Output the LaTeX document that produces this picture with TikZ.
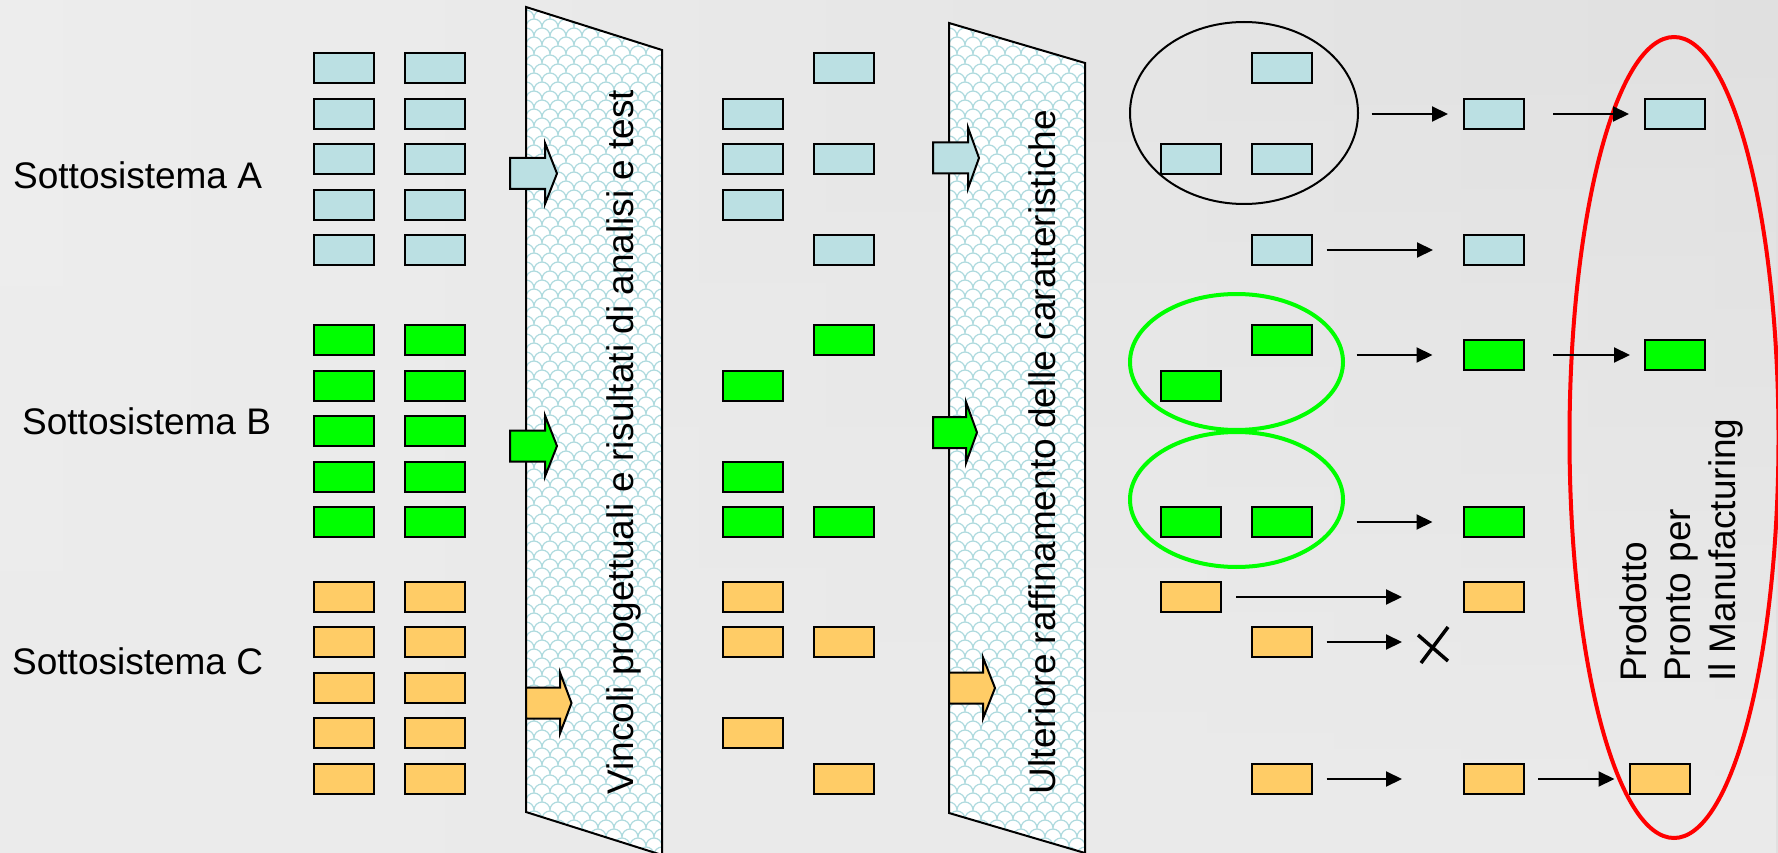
\documentclass[tikz,border=0pt]{standalone}
\usepackage{fontspec}
\setmainfont{Liberation Sans}
\usetikzlibrary{arrows.meta,fadings,shapes.geometric}

\definecolor{bgL}{HTML}{EEEEEE}
\definecolor{bgR}{HTML}{E0E0E0}
\definecolor{bgB}{HTML}{EBEBEB}
\definecolor{cA}{HTML}{BBE0E3}
\definecolor{cB}{HTML}{00FF00}
\definecolor{cC}{HTML}{FFCC66}
\definecolor{patcol}{HTML}{AEDADE}

\tikzfading[name=fadeup, top color=transparent!100, bottom color=transparent!0]

\tikzset{
  box/.style={draw=black, line width=2pt, rectangle, minimum width=60pt,
    minimum height=30pt, inner sep=0pt},
  boxA/.style={box, fill=cA},
  boxB/.style={box, fill=cB},
  boxC/.style={box, fill=cC},
  lbl/.style={font=\fontsize{37}{44}\selectfont, inner sep=0pt},
  flow/.style={line width=2pt, -{Triangle[length=16pt,width=15pt]}},
  panel/.style={draw=black, line width=2pt, line join=miter},
  patline/.style={draw=patcol, line width=1.2pt},
  fat/.style={draw=black, line width=2pt, line join=miter},
  group/.style={ellipse, inner sep=0pt},
}

% block arrow: fill colour, start x, head base x, tip x, centre y
\newcommand\fatarrow[5]{%
  \draw[fat, fill=#1] (#2,#5-15.5) -- (#3,#5-15.5) -- (#3,#5-30.5) -- (#4,#5)
    -- (#3,#5+30.5) -- (#3,#5+15.5) -- (#2,#5+15.5) -- cycle;}

\begin{document}
\begin{tikzpicture}[x=1pt, y=-1pt]
\useasboundingbox (0,0) rectangle (1778,853);

% background
\shade[left color=bgL, right color=bgR] (0,0) rectangle (1778,853);
\fill[bgB, path fading=fadeup] (0,0) rectangle (1778,853);

% subsystem labels
\node[lbl, anchor=base west] (sA) at (13,189) {Sottosistema A};
\node[lbl, anchor=base west] (sB) at (22,434) {Sottosistema B};
\node[lbl, anchor=base west] (sC) at (12,674) {Sottosistema C};

% initial columns of components
\foreach \r/\y in {1/68,2/114,3/159,4/205,5/250} {
  \node[boxA] (a1\r) at (344,\y) {};
  \node[boxA] (a2\r) at (435,\y) {};
}
\foreach \r/\y in {1/340,2/386,3/431,4/476.5,5/522} {
  \node[boxB] (b1\r) at (344,\y) {};
  \node[boxB] (b2\r) at (435,\y) {};
}
\foreach \r/\y in {1/597,2/642,3/688,4/733,5/779} {
  \node[boxC] (c1\r) at (344,\y) {};
  \node[boxC] (c2\r) at (435,\y) {};
}

% first filter panel
\begin{scope}
  \clip (526,7) -- (662,50) -- (662,855) -- (526,812) -- cycle;
  \fill[white] (500,0) rectangle (700,860);
  \draw[patline] \foreach \j in {0,...,96} {
    \foreach \i in {0,...,9} {
      ({518+16*\i+8*mod(\j,2)},{9*\j}) arc[start angle=180,end angle=360,radius=8]
    } };
\end{scope}
\draw[panel] (526,7) -- (662,50) -- (662,855) -- (526,812) -- cycle;
\node[lbl, rotate=90, anchor=base] (p1) at (633,442)
  {Vincoli progettuali e risultati di analisi e test};

\fatarrow{cA}{510}{545}{557}{173.5}
\fatarrow{cB}{510}{545}{557}{446}
\fatarrow{cC}{526}{560}{571.5}{703}

% components after the first filter
\node[boxA] (m4a1) at (843.5,68) {};
\node[boxA] (m3a2) at (752.5,114) {};
\node[boxA] (m3a3) at (752.5,159) {};
\node[boxA] (m4a3) at (843.5,159) {};
\node[boxA] (m3a4) at (752.5,205) {};
\node[boxA] (m4a5) at (843.5,250) {};
\node[boxB] (m4b1) at (843.5,340) {};
\node[boxB] (m3b2) at (752.5,386) {};
\node[boxB] (m3b4) at (752.5,476.5) {};
\node[boxB] (m3b5) at (752.5,522) {};
\node[boxB] (m4b5) at (843.5,522) {};
\node[boxC] (m3c1) at (752.5,597) {};
\node[boxC] (m3c2) at (752.5,642) {};
\node[boxC] (m4c2) at (843.5,642) {};
\node[boxC] (m3c4) at (752.5,733) {};
\node[boxC] (m4c5) at (843.5,779) {};

% second filter panel
\begin{scope}
  \clip (949,23) -- (1085,63) -- (1085,853) -- (949,813) -- cycle;
  \fill[white] (930,0) rectangle (1100,860);
  \draw[patline] \foreach \j in {0,...,96} {
    \foreach \i in {0,...,9} {
      ({941+16*\i+8*mod(\j,2)},{9*\j}) arc[start angle=180,end angle=360,radius=8]
    } };
\end{scope}
\draw[panel] (949,23) -- (1085,63) -- (1085,853) -- (949,813) -- cycle;
\node[lbl, rotate=90, anchor=base] (p2) at (1055,452)
  {Ulteriore raffinamento delle caratteristiche};

\fatarrow{cA}{933}{968}{979}{158}
\fatarrow{cB}{933}{966}{977}{432.5}
\fatarrow{cC}{949}{983}{995}{688}

% final product outline
\node[group, draw=red, line width=4pt, minimum width=209pt, minimum height=801pt]
  (prod) at (1674,437.5) {};

% grouping outlines
\node[group, draw=black, line width=2pt, minimum width=228pt, minimum height=182pt]
  (gA) at (1244,113) {};
\node[group, draw=cB, line width=4pt, minimum width=213pt, minimum height=136pt]
  (gB1) at (1236.5,362) {};
\node[group, draw=cB, line width=4pt, minimum width=213pt, minimum height=135pt]
  (gB2) at (1236.5,499.5) {};

% integrated components
\node[boxA] (ra1) at (1281.5,68) {};
\node[boxA] (ra3a) at (1191,159) {};
\node[boxA] (ra3b) at (1281.5,159) {};
\node[boxA] (ra5) at (1281.5,250) {};
\node[boxA] (rcA2) at (1493.5,114) {};
\node[boxA] (rdA2) at (1675,114) {};
\node[boxA] (rcA5) at (1493.5,250) {};

\node[boxB] (rb1) at (1281.5,340) {};
\node[boxB] (rb2) at (1191,386) {};
\node[boxB] (rb5a) at (1191,522) {};
\node[boxB] (rb5b) at (1281.5,522) {};
\node[boxB] (rcB) at (1493.5,355) {};
\node[boxB] (rdB) at (1675,355) {};
\node[boxB] (rcB5) at (1493.5,522) {};

\node[boxC] (rc1) at (1191,597) {};
\node[boxC] (rc2) at (1281.5,642) {};
\node[boxC] (rc5) at (1281.5,779) {};
\node[boxC] (rcC1) at (1493.5,597) {};
\node[boxC] (rcC5) at (1493.5,779) {};
\node[boxC] (rdC5) at (1660,779) {};

% flow arrows
\draw[flow, shorten <=12.5pt, shorten >=14.5pt] (gA.east |- rcA2.west) -- (rcA2.west);
\draw[flow, shorten <=28.5pt, shorten >=15pt] (rcA2.east) -- (rdA2.west);
\draw[flow, shorten <=14pt, shorten >=29.5pt] (ra5.east) -- (rcA5.west);
\draw[flow, shorten <=11.5pt, shorten >=30pt] (gB1.east |- rcB.west) -- (rcB.west);
\draw[flow, shorten <=28.5pt, shorten >=14pt] (rcB.east) -- (rdB.west);
\draw[flow, shorten <=11.5pt, shorten >=30pt] (gB2.east |- rcB5.west) -- (rcB5.west);
\draw[flow, shorten <=14pt, shorten >=60.5pt] (rc1.east) -- (rcC1.west);
\coordinate (drop) at (1402,642);
\draw[flow, shorten <=14pt] (rc2.east) -- (drop);
\draw[flow, shorten <=14pt, shorten >=60.5pt] (rc5.east) -- (rcC5.west);
\draw[flow, shorten <=13.5pt, shorten >=14.5pt] (rcC5.east) -- (rdC5.west);

% discarded component
\draw[line width=3.5pt] (1418,635) -- (1448,661) (1448,627) -- (1421,663);

% product label
\node[lbl, rotate=90, anchor=base west] (l1) at (1646,682) {Prodotto};
\node[lbl, rotate=90, anchor=base west] (l2) at (1690,682) {Pronto per};
\node[lbl, rotate=90, anchor=base west] (l3) at (1735,682) {Il Manufacturing};
\end{tikzpicture}
\end{document}
